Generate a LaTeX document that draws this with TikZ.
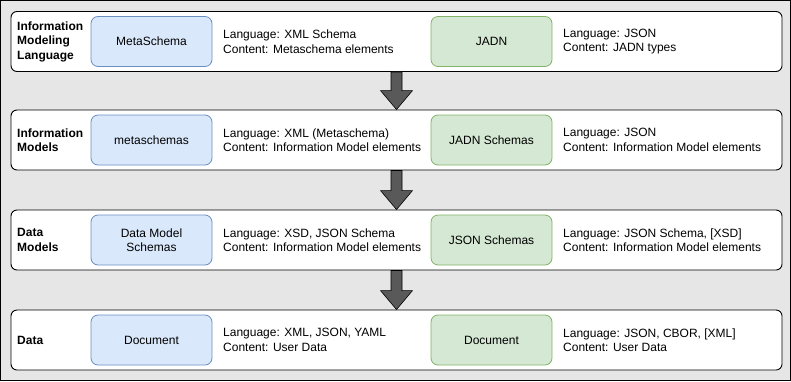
\documentclass[tikz,border=0pt]{standalone}
\usepackage{fontspec}
\setmainfont{Liberation Sans}
\usetikzlibrary{calc}
\definecolor{panelgray}{HTML}{E6E6E6}
\definecolor{bluefill}{HTML}{DAE8FC}
\definecolor{bluedraw}{HTML}{6C8EBF}
\definecolor{greenfill}{HTML}{D5E8D4}
\definecolor{greendraw}{HTML}{82B366}
\definecolor{arrowgray}{HTML}{595959}
\begin{document}
\begin{tikzpicture}[x=1pt,y=-1pt,
  every node/.style={font=\fontsize{12}{14.5}\selectfont, inner sep=0pt},
  layer/.style={draw=black, fill=white, rounded corners=6pt, line width=0.9pt,
    minimum width=771pt, minimum height=60pt},
  bluebox/.style={draw=bluedraw, fill=bluefill, rounded corners=7pt, line width=0.8pt,
    minimum width=121pt, minimum height=50pt, align=center},
  greenbox/.style={draw=greendraw, fill=greenfill, rounded corners=7pt, line width=0.8pt,
    minimum width=121pt, minimum height=50pt, align=center},
  info/.style={anchor=west, align=left},
  tag/.style={anchor=west, align=left, font=\fontsize{12}{14.5}\selectfont\bfseries},
  blockarrow/.style={draw=black, fill=arrowgray, line width=0.6pt, line join=miter}
]
% canvas
\useasboundingbox (0,0) rectangle (791,381);
\draw[fill=panelgray, draw=black, line width=1pt] (0.5,0.5) rectangle (790.5,380.5);

% layers
\node[layer] (r1) at (396.5,41.5) {};
\node[layer] (r2) at (396.5,140) {};
\node[layer] (r3) at (396.5,240) {};
\node[layer] (r4) at (396.5,340) {};

% layer titles
\node[tag] (t1) at (17,41.5) {Information\\Modeling\\Language};
\node[tag] (t2) at (17,140) {Information\\Models};
\node[tag] (t3) at (17,240) {Data\\Models};
\node[tag] (t4) at (17,340) {Data};

% left column
\node[bluebox] (b1) at (151.5,41.5) {MetaSchema};
\node[bluebox] (b2) at (151.5,140) {metaschemas};
\node[bluebox] (b3) at (151.5,240) {Data Model\\Schemas};
\node[bluebox] (b4) at (151.5,340) {Document};

\node[info] (i1) at (223,41.5) {Language: XML Schema\\Content: Metaschema elements};
\node[info] (i2) at (223,140) {Language: XML (Metaschema)\\Content: Information Model elements};
\node[info] (i3) at (223,240) {Language: XSD, JSON Schema\\Content: Information Model elements};
\node[info] (i4) at (223,340) {Language: XML, JSON, YAML\\Content: User Data};

% right column
\node[greenbox] (g1) at (491.5,41.5) {JADN};
\node[greenbox] (g2) at (491.5,140) {JADN Schemas};
\node[greenbox] (g3) at (491.5,240) {JSON Schemas};
\node[greenbox] (g4) at (491.5,340) {Document};

\node[info] (j1) at (563,41.5) {Language: JSON\\Content: JADN types};
\node[info] (j2) at (563,140) {Language: JSON\\Content: Information Model elements};
\node[info] (j3) at (563,240) {Language: JSON Schema, [XSD]\\Content: Information Model elements};
\node[info] (j4) at (563,340) {Language: JSON, CBOR, [XML]\\Content: User Data};

% block arrows between layers
\foreach \a/\b in {r1/r2, r2/r3, r3/r4}{
  \draw[blockarrow]
    ($(\a.south)+(-5.5,0)$) -- ($(\a.south)+(5.5,0)$)
    -- ($(\b.north)+(5.5,-19)$) -- ($(\b.north)+(16,-19)$)
    -- (\b.north)
    -- ($(\b.north)+(-16,-19)$) -- ($(\b.north)+(-5.5,-19)$) -- cycle;
}
\end{tikzpicture}
\end{document}
